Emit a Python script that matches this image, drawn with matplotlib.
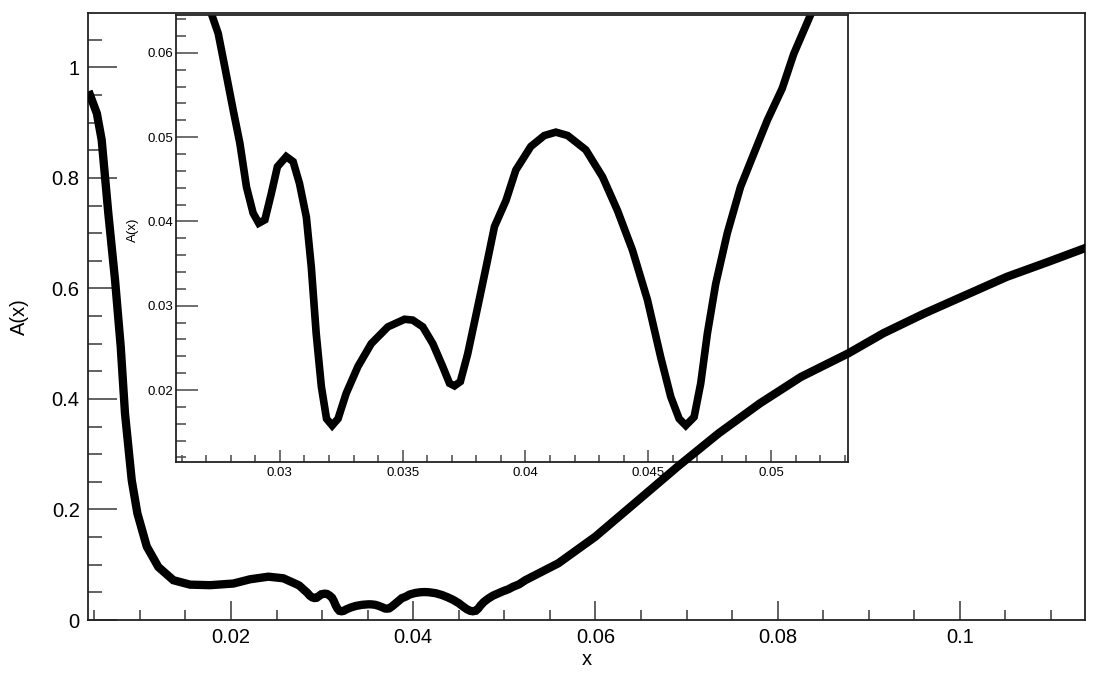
import matplotlib
matplotlib.use("Agg")
import matplotlib.pyplot as plt
from matplotlib.ticker import MultipleLocator, FuncFormatter

plt.rcParams['font.family'] = ['Liberation Sans', 'DejaVu Sans']

# ---- data: A(x) curve ----
x_head = [0.00452, 0.00527, 0.00580, 0.00653, 0.00727, 0.00789, 0.00836, 0.00910,
          0.00972, 0.01075, 0.01202, 0.01367, 0.01550, 0.01770, 0.02026, 0.02209,
          0.02410, 0.02574]
a_head = [0.950, 0.917, 0.869, 0.736, 0.615, 0.495, 0.374, 0.253,
          0.193, 0.133, 0.096, 0.072, 0.064, 0.063, 0.066, 0.0737,
          0.0784, 0.0755]

x_mid = [0.02723, 0.02749, 0.02776, 0.0281, 0.02837, 0.02864, 0.02891, 0.02914, 0.02939,
         0.02965, 0.0299, 0.03026, 0.03054, 0.0308, 0.03108, 0.03128, 0.03148, 0.03169,
         0.0319, 0.03213, 0.03237, 0.0327, 0.03318, 0.03372, 0.0344, 0.03508, 0.03541,
         0.03582, 0.03623, 0.03663, 0.03691, 0.03711, 0.03735, 0.03765, 0.03806, 0.0384,
         0.03874, 0.03921, 0.03961, 0.04022, 0.04077, 0.04124, 0.04172, 0.04246, 0.04314,
         0.04375, 0.04436, 0.04497, 0.04551, 0.04592, 0.04626, 0.04653, 0.04687, 0.04714,
         0.04741, 0.04775, 0.04822, 0.04876, 0.04931, 0.04985, 0.05046, 0.05093, 0.05161]
a_mid = [0.0645, 0.0623, 0.0583, 0.0532, 0.0493, 0.0441, 0.0410, 0.0398, 0.0402,
         0.0433, 0.0465, 0.0477, 0.0471, 0.0445, 0.0405, 0.0346, 0.0267, 0.0204,
         0.0166, 0.0158, 0.0166, 0.0196, 0.0228, 0.0255, 0.0275, 0.0284, 0.0283,
         0.0275, 0.0255, 0.0228, 0.0208, 0.0205, 0.0210, 0.0243, 0.0299, 0.0346,
         0.0394, 0.0425, 0.0461, 0.0489, 0.0502, 0.0506, 0.0502, 0.0485, 0.0453,
         0.0413, 0.0366, 0.0307, 0.0239, 0.0192, 0.0166, 0.0158, 0.0168, 0.0208,
         0.0267, 0.0326, 0.0386, 0.0441, 0.0481, 0.0520, 0.0558, 0.0599, 0.0645]

x_tail = [0.0523, 0.05592, 0.05998, 0.0645, 0.06901, 0.07354, 0.07805, 0.08257, 0.08776,
          0.09161, 0.09613, 0.10064, 0.10515, 0.10967, 0.11374]
a_tail = [0.072, 0.1026, 0.1507, 0.214, 0.2774, 0.338, 0.392, 0.440, 0.4826,
          0.519, 0.555, 0.588, 0.621, 0.648, 0.673]

x_vals = x_head + x_mid + x_tail
a_vals = a_head + a_mid + a_tail

main_xticks = [0.02, 0.04, 0.06, 0.08, 0.1]
main_yticks = [0, 0.2, 0.4, 0.6, 0.8, 1]
inset_xticks = [0.03, 0.035, 0.04, 0.045, 0.05]
inset_yticks = [0.02, 0.03, 0.04, 0.05, 0.06]

W, H = 1096, 673
fig = plt.figure(figsize=(W / 100, H / 100), dpi=100)

def fbox(l, t, r, b):
    return [l / W, 1 - b / H, (r - l) / W, (b - t) / H]

axcol = '#222222'
tickcol = '#555555'
fmt = FuncFormatter(lambda v, p: ('%g' % round(v, 6)))

# ---- main axes ----
ax = fig.add_axes(fbox(88, 13.3, 1085, 620))
ax.set_xlim(0.0043, 0.11374)
ax.set_ylim(0, 1.098)
ax.plot(x_vals, a_vals, color='black', lw=6, solid_joinstyle='miter', zorder=10)
ax.set_xticks(main_xticks)
ax.set_yticks(main_yticks)
ax.xaxis.set_minor_locator(MultipleLocator(0.005))
ax.yaxis.set_minor_locator(MultipleLocator(0.05))
ax.xaxis.set_major_formatter(fmt)
ax.yaxis.set_major_formatter(fmt)
ax.tick_params(axis='both', which='both', direction='in', colors=tickcol,
               labelcolor='black', labelsize=14.5, width=1.3)
ax.tick_params(axis='y', which='major', length=21, pad=6)
ax.tick_params(axis='y', which='minor', length=10)
ax.tick_params(axis='x', which='major', length=13.5, pad=6)
ax.tick_params(axis='x', which='minor', length=7)
for s in ax.spines.values():
    s.set_color(axcol)
    s.set_linewidth(1.3)
ax.set_xlabel('x', fontsize=14.5)
ax.set_ylabel('A(x)', fontsize=14.5)
ax.xaxis.set_label_coords(0.5, -(650 - 620) / (620 - 13.3), transform=ax.transAxes)
ax.yaxis.set_label_coords(-(88 - 29) / (1085 - 88), 0.5, transform=ax.transAxes)

# ---- inset axes ----
ins = ax.inset_axes(fbox(176, 15, 848.3, 461.7), transform=fig.transFigure)
ins.set_zorder(5)
ins.set_xlim(0.02577, 0.05315)
ins.set_ylim(0.0115, 0.0645)
ins.plot(x_vals, a_vals, color='black', lw=5.5, solid_joinstyle='miter')
ins.set_xticks(inset_xticks)
ins.set_yticks(inset_yticks)
ins.xaxis.set_minor_locator(MultipleLocator(0.001))
ins.yaxis.set_minor_locator(MultipleLocator(0.002))
ins.xaxis.set_major_formatter(fmt)
ins.yaxis.set_major_formatter(fmt)
ins.tick_params(axis='both', which='both', direction='in', colors=tickcol,
                labelcolor='black', labelsize=9.5, width=1.2)
ins.tick_params(axis='y', which='major', length=15.5, pad=2)
ins.tick_params(axis='y', which='minor', length=7.5)
ins.tick_params(axis='x', which='major', length=9, pad=4)
ins.tick_params(axis='x', which='minor', length=5)
for s in ins.spines.values():
    s.set_color(axcol)
    s.set_linewidth(1.3)
ins.set_ylabel('A(x)', fontsize=9.5)
ins.yaxis.set_label_coords(-(176 - 139) / (848.3 - 176), (461.7 - 230) / (461.7 - 15),
                           transform=ins.transAxes)

fig.savefig('out.png', dpi=100)
